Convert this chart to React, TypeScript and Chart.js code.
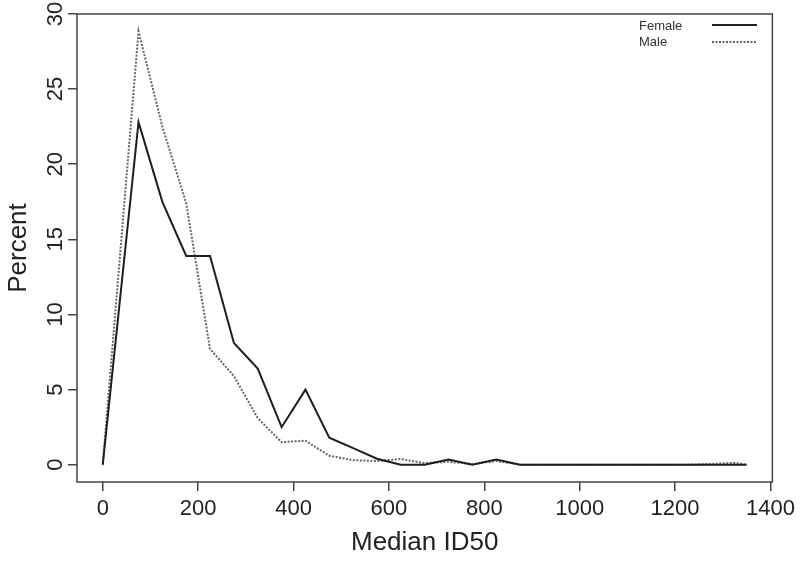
import React, { useEffect, useRef } from "react";
import { Chart, registerables } from "chart.js";

Chart.register(...registerables);

// Median ID50 values (x positions of the polygon points)
const medianID50 = [
  0, 75, 125, 175, 225, 275, 325, 375, 425, 475, 525, 575, 625, 675, 725, 775, 825, 875,
  925, 975, 1025, 1075, 1125, 1175, 1225, 1275, 1325, 1350,
];
// Percent, female (solid)
const femalePct = [
  0, 22.8, 17.5, 13.9, 13.9, 8.1, 6.4, 2.5, 5.0, 1.8, 1.1, 0.4, 0, 0, 0.35, 0, 0.35, 0,
  0, 0, 0, 0, 0, 0, 0, 0, 0, 0,
];
// Percent, male (dotted)
const malePct = [
  0, 28.85, 22.5, 17.4, 7.7, 5.9, 3.1, 1.5, 1.6, 0.6, 0.3, 0.25, 0.38, 0.1, 0.2, 0.05, 0.25, 0,
  0, 0, 0, 0, 0, 0, 0, 0.05, 0.12, 0,
];
const xTicks = [0, 200, 400, 600, 800, 1000, 1200, 1400];
const yTicks = [0, 5, 10, 15, 20, 25, 30];
const seriesNames = ["Female", "Male"];

const FONT = '"Liberation Sans", Arial, Helvetica, sans-serif';

const boxAndLegend = {
  id: "boxAndLegend",
  afterDraw(chart: any) {
    const { ctx, chartArea } = chart;
    ctx.save();
    ctx.strokeStyle = "#444";
    ctx.lineWidth = 1.5;
    ctx.setLineDash([]);
    ctx.strokeRect(chartArea.left, chartArea.top, chartArea.right - chartArea.left, chartArea.bottom - chartArea.top);

    // legend
    ctx.font = `13px ${FONT}`;
    ctx.fillStyle = "#333";
    ctx.textBaseline = "middle";
    ctx.textAlign = "left";
    ctx.fillText(seriesNames[0], 639, 26);
    ctx.fillText(seriesNames[1], 639, 42);
    ctx.lineWidth = 2;
    ctx.strokeStyle = "#222";
    ctx.beginPath();
    ctx.moveTo(712, 25);
    ctx.lineTo(757, 25);
    ctx.stroke();
    ctx.strokeStyle = "#666";
    ctx.setLineDash([2, 1.5]);
    ctx.beginPath();
    ctx.moveTo(712, 42);
    ctx.lineTo(757, 42);
    ctx.stroke();
    ctx.restore();
  },
};

export default function App() {
  const canvasRef = useRef<HTMLCanvasElement | null>(null);

  useEffect(() => {
    if (!canvasRef.current) return;
    const chart = new Chart(canvasRef.current, {
      type: "line",
      data: {
        datasets: [
          {
            label: seriesNames[0],
            data: medianID50.map((x, i) => ({ x, y: femalePct[i] })),
            borderColor: "#1e1e1e",
            borderWidth: 2,
            pointRadius: 0,
            tension: 0,
            fill: false,
          },
          {
            label: seriesNames[1],
            data: medianID50.map((x, i) => ({ x, y: malePct[i] })),
            borderColor: "#666",
            borderWidth: 2,
            borderDash: [2, 1.5],
            pointRadius: 0,
            tension: 0,
            fill: false,
          },
        ],
      },
      options: {
        animation: false,
        responsive: false,
        maintainAspectRatio: false,
        layout: { padding: { left: 0, right: 27, top: 14, bottom: 0 } },
        plugins: {
          legend: { display: false },
          tooltip: { enabled: false },
        },
        scales: {
          x: {
            type: "linear",
            min: -54,
            max: 1404,
            afterBuildTicks: (s: any) => {
              s.ticks = xTicks.map((v) => ({ value: v }));
            },
            afterFit: (s: any) => {
              s.height = 79;
            },
            grid: {
              drawOnChartArea: false,
              drawTicks: true,
              tickLength: 9,
              color: "#444",
              lineWidth: 1.5,
            },
            border: { display: false },
            ticks: {
              color: "#222",
              font: { family: FONT, size: 22 },
              padding: 5,
              maxRotation: 0,
              minRotation: 0,
              autoSkip: false,
              callback: (v: any) => String(v),
            },
            title: {
              display: true,
              text: "Median ID50",
              color: "#222",
              font: { family: FONT, size: 26 },
              padding: { top: 0, bottom: 2.4 },
            },
          },
          y: {
            type: "linear",
            min: -1.15,
            max: 30.0,
            afterBuildTicks: (s: any) => {
              s.ticks = yTicks.map((v) => ({ value: v }));
            },
            afterFit: (s: any) => {
              s.width = 77;
            },
            grid: {
              drawOnChartArea: false,
              drawTicks: true,
              tickLength: 9,
              color: "#444",
              lineWidth: 1.5,
            },
            border: { display: false },
            ticks: {
              color: "#222",
              font: { family: FONT, size: 22 },
              padding: 0,
              minRotation: 90,
              maxRotation: 90,
              crossAlign: "center",
              autoSkip: false,
              callback: (v: any) => String(v),
            },
            title: {
              display: true,
              text: "Percent",
              color: "#222",
              font: { family: FONT, size: 26 },
              padding: { top: 3.4, bottom: 0 },
            },
          },
        },
      },
      plugins: [boxAndLegend],
    });
    return () => chart.destroy();
  }, []);

  return (
    <div style={{ position: "fixed", left: 0, top: 0, width: 800, height: 561, background: "#fff" }}>
      <canvas ref={canvasRef} width={800} height={561} style={{ width: 800, height: 561 }} />
    </div>
  );
}
